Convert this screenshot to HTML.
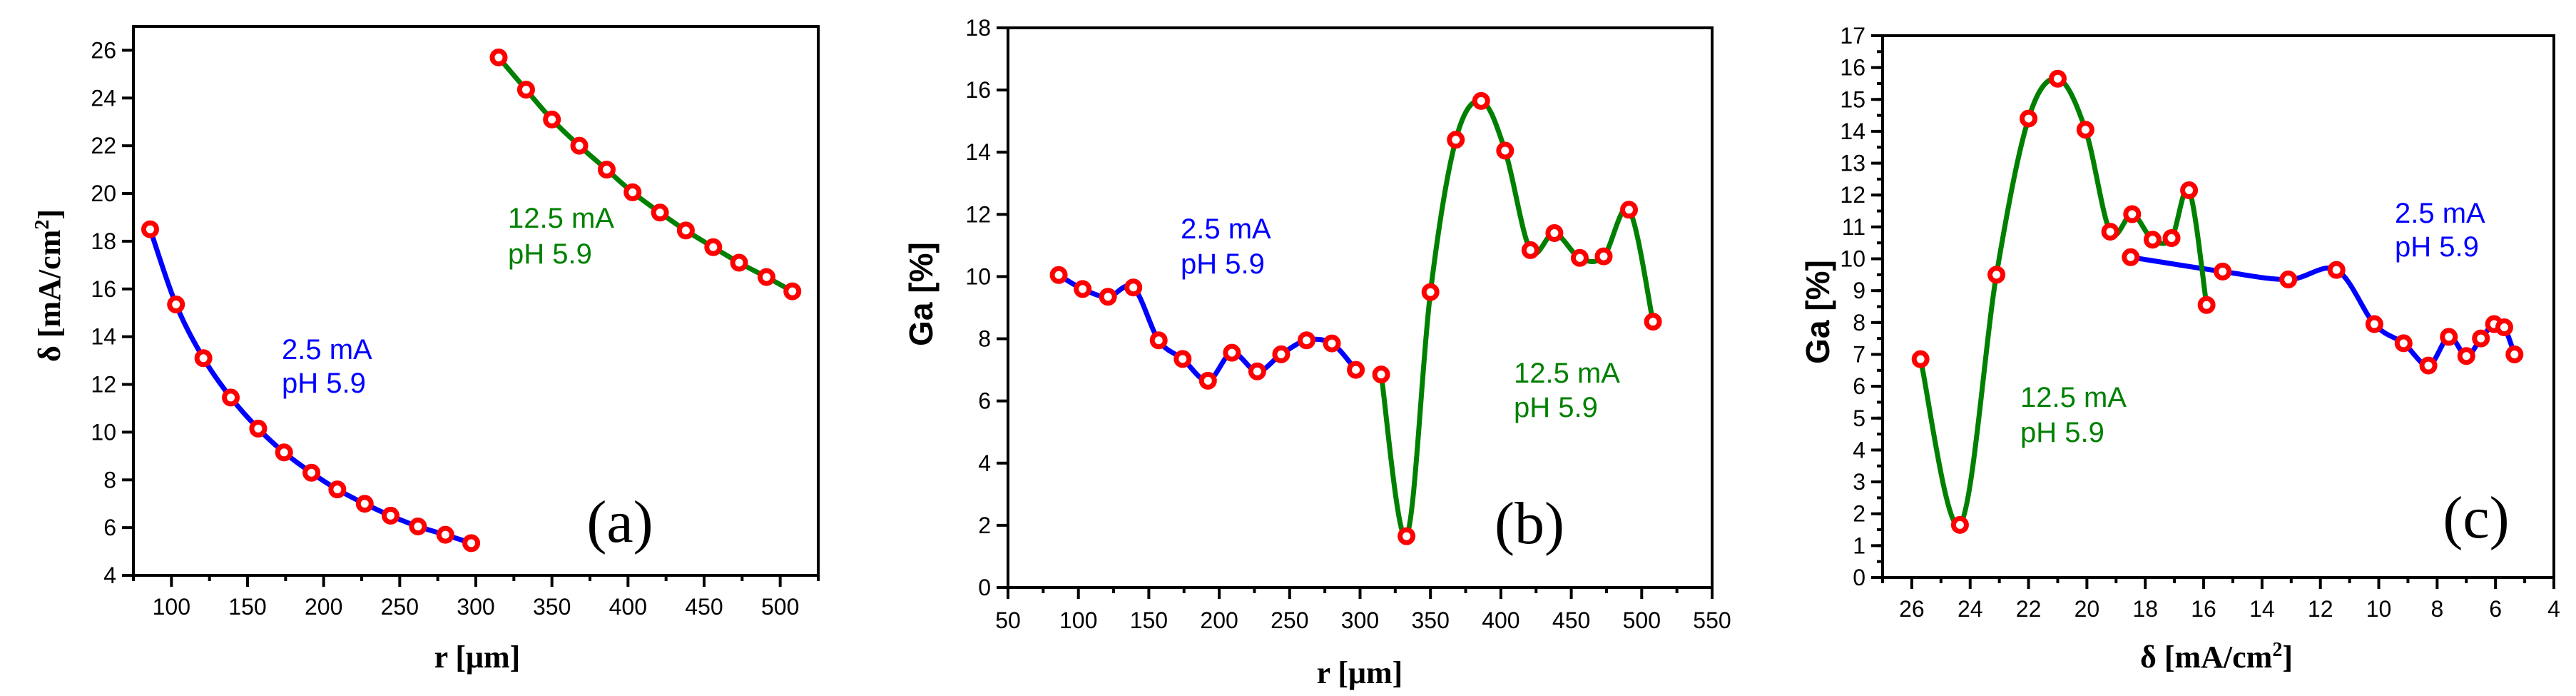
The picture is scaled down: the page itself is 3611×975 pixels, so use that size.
<!DOCTYPE html>
<html><head><meta charset="utf-8">
<style>
html,body{margin:0;padding:0;background:#fff;}
svg{display:block;}
.tick{font-family:"Liberation Sans",Arial,sans-serif;font-size:32px;fill:#000;}
.ann{font-family:"Liberation Sans",Arial,sans-serif;font-size:40px;}
.ttl{font-family:"Liberation Serif","Times New Roman",serif;font-weight:bold;font-size:44px;fill:#000;}
.ttls{font-family:"Liberation Sans",Arial,sans-serif;font-weight:bold;font-size:46px;fill:#000;}
.pan{font-family:"Liberation Serif","Times New Roman",serif;font-size:84px;fill:#000;}
</style></head>
<body>
<svg id="fig" width="3611" height="975" viewBox="0 0 3611 975" xmlns="http://www.w3.org/2000/svg">
  <rect width="3611" height="975" fill="#fff"/>
  <text class="ttl" x="669" y="935" text-anchor="middle">r [μm]</text>
  <text class="ttl" transform="translate(84,400) rotate(-90)" text-anchor="middle">δ [mA/cm<tspan dy="-16" font-size="28">2</tspan><tspan dy="16">]</tspan></text>
  <text class="pan" x="869" y="759" text-anchor="middle">(a)</text>
  <text class="ann" fill="#0000ff" x="395" y="503">2.5 mA</text>
  <text class="ann" fill="#0000ff" x="395" y="550">pH 5.9</text>
  <text class="ann" fill="#008000" x="712" y="319">12.5 mA</text>
  <text class="ann" fill="#008000" x="712" y="369">pH 5.9</text>

  <text class="ttl" x="1906" y="957" text-anchor="middle">r [μm]</text>
  <text class="ttls" transform="translate(1307,412) rotate(-90)" text-anchor="middle">Ga [%]</text>
  <text class="pan" x="2144" y="761" text-anchor="middle">(b)</text>
  <text class="ann" fill="#0000ff" x="1655" y="334">2.5 mA</text>
  <text class="ann" fill="#0000ff" x="1655" y="383">pH 5.9</text>
  <text class="ann" fill="#008000" x="2122" y="536">12.5 mA</text>
  <text class="ann" fill="#008000" x="2122" y="584">pH 5.9</text>

  <text class="ttl" x="3107" y="935" text-anchor="middle">δ [mA/cm<tspan dy="-16" font-size="28">2</tspan><tspan dy="16">]</tspan></text>
  <text class="ttls" transform="translate(2564,437) rotate(-90)" text-anchor="middle">Ga [%]</text>
  <text class="pan" x="3471" y="753" text-anchor="middle">(c)</text>
  <text class="ann" fill="#0000ff" x="3357" y="312">2.5 mA</text>
  <text class="ann" fill="#0000ff" x="3357" y="359">pH 5.9</text>
  <text class="ann" fill="#008000" x="2832" y="570">12.5 mA</text>
  <text class="ann" fill="#008000" x="2832" y="619">pH 5.9</text>
</svg>
<script>
const rBlue = [86,103,121,139,157,174,192,209,227,244,262,280,297];
const rGreen = [315,333,350,368,386,403,421,438,456,473,491,508];
const deltaBlue = [18.5,15.35,13.1,11.45,10.15,9.15,8.3,7.6,7.0,6.5,6.05,5.7,5.35];
const deltaGreen = [25.7,24.35,23.1,22.0,21.0,20.05,19.2,18.45,17.75,17.1,16.5,15.9];
const gaBlue = [10.05,9.6,9.35,9.65,7.95,7.35,6.65,7.55,6.95,7.5,7.95,7.85,7.0];
const gaGreen = [6.85,1.65,9.5,14.4,15.65,14.05,10.85,11.4,10.6,10.65,12.15,8.55];
const ticksA_x = [100,150,200,250,300,350,400,450,500];
const ticksA_y = [4,6,8,10,12,14,16,18,20,22,24,26];
const ticksB_x = [50,100,150,200,250,300,350,400,450,500,550];
const ticksB_y = [0,2,4,6,8,10,12,14,16,18];
const ticksC_x = [26,24,22,20,18,16,14,12,10,8,6,4];
const ticksC_y = [0,1,2,3,4,5,6,7,8,9,10,11,12,13,14,15,16,17];

const NS = "http://www.w3.org/2000/svg";
const svg = document.getElementById('fig');
function mk(tag, attrs, parent){
  const e = document.createElementNS(NS, tag);
  for (const k in attrs) e.setAttribute(k, attrs[k]);
  (parent||svg).appendChild(e);
  return e;
}
function spline(pts){
  if (pts.length < 2) return '';
  let d = 'M' + pts[0][0] + ',' + pts[0][1];
  for (let i = 0; i < pts.length - 1; i++){
    const p0 = pts[i-1] || pts[i], p1 = pts[i], p2 = pts[i+1], p3 = pts[i+2] || pts[i+1];
    const c1x = p1[0] + (p2[0]-p0[0])/6, c1y = p1[1] + (p2[1]-p0[1])/6;
    const c2x = p2[0] - (p3[0]-p1[0])/6, c2y = p2[1] - (p3[1]-p1[1])/6;
    d += ' C' + c1x + ',' + c1y + ' ' + c2x + ',' + c2y + ' ' + p2[0] + ',' + p2[1];
  }
  return d;
}
function chart(cfg){
  const g = mk('g', {});
  
  
  const sx = v => cfg.L + (v - cfg.x0) / (cfg.x1 - cfg.x0) * (cfg.R - cfg.L);
  const sy = v => cfg.B - (v - cfg.y0) / (cfg.y1 - cfg.y0) * (cfg.B - cfg.T);
  for (let v = cfg.xminStart; (cfg.x1 > cfg.x0 ? v <= cfg.x1 : v >= cfg.x1); v += cfg.xminStep){
    const t = mk('line', {x1:sx(v), x2:sx(v), y1:cfg.B, y2:cfg.B+8, stroke:'#000','stroke-width':4}, g);
    
    
  }
  cfg.xt.forEach(v => {
    const t = mk('line', {x1:sx(v), x2:sx(v), y1:cfg.B, y2:cfg.B+16, stroke:'#000','stroke-width':4}, g);
    
    
    const l = mk('text', {x:sx(v), y:cfg.B+cfg.xlOff, 'text-anchor':'middle', class:'tick'}, g);
    l.textContent = v;
    
    
  });
  if (cfg.yminStep){
    for (let v = cfg.y0; v <= cfg.y1; v += cfg.yminStep){
      const t = mk('line', {x1:cfg.L-8, x2:cfg.L, y1:sy(v), y2:sy(v), stroke:'#000','stroke-width':4}, g);
      
      
    }
  }
  cfg.yt.forEach(v => {
    const t = mk('line', {x1:cfg.L-16, x2:cfg.L, y1:sy(v), y2:sy(v), stroke:'#000','stroke-width':4}, g);
    
    
    const l = mk('text', {x:cfg.L-24, y:sy(v)+11, 'text-anchor':'end', class:'tick'}, g);
    l.textContent = v;
    
    
  });
  const fr = mk('rect', {x:cfg.L, y:cfg.T, width:cfg.R-cfg.L, height:cfg.B-cfg.T, fill:'none', stroke:'#000', 'stroke-width':4}, g);
  
  
  cfg.series.forEach(s => {
    const pts = s.x.map((v,i) => [sx(v), sy(s.y[i])]);
    const p = mk('path', {d:spline(pts), fill:'none', stroke:s.color, 'stroke-width':7, 'stroke-linejoin':'round'}, g);
    
    
  });
  cfg.series.forEach(s => {
    s.x.forEach((v,i) => {
      const c = mk('circle', {cx:sx(v), cy:sy(s.y[i]), r:9, fill:'#fff', stroke:'#ff0000', 'stroke-width':7}, g);
      
      
    });
  });
}
chart({name:'chart-a', L:187, R:1147, T:37, B:806, x0:75, x1:525, y0:4, y1:27,
  xt:ticksA_x, yt:ticksA_y, xminStart:75, xminStep:50, yminStep:0, xlOff:55,
  series:[{name:'blue-2-5ma', x:rBlue, y:deltaBlue, color:'#0000ff'},
          {name:'green-12-5ma', x:rGreen, y:deltaGreen, color:'#008000'}]});
chart({name:'chart-b', L:1413, R:2400, T:39, B:823, x0:50, x1:550, y0:0, y1:18,
  xt:ticksB_x, yt:ticksB_y, xminStart:75, xminStep:50, yminStep:0, xlOff:57,
  series:[{name:'blue-2-5ma', x:rBlue, y:gaBlue, color:'#0000ff'},
          {name:'green-12-5ma', x:rGreen, y:gaGreen, color:'#008000'}]});
chart({name:'chart-c', L:2639, R:3580, T:50, B:809, x0:27, x1:4, y0:0, y1:17,
  xt:ticksC_x, yt:ticksC_y, xminStart:27, xminStep:-2, yminStep:0.5, xlOff:55,
  series:[{name:'blue-2-5ma', x:deltaBlue, y:gaBlue, color:'#0000ff'},
          {name:'green-12-5ma', x:deltaGreen, y:gaGreen, color:'#008000'}]});
</script>
</body></html>
